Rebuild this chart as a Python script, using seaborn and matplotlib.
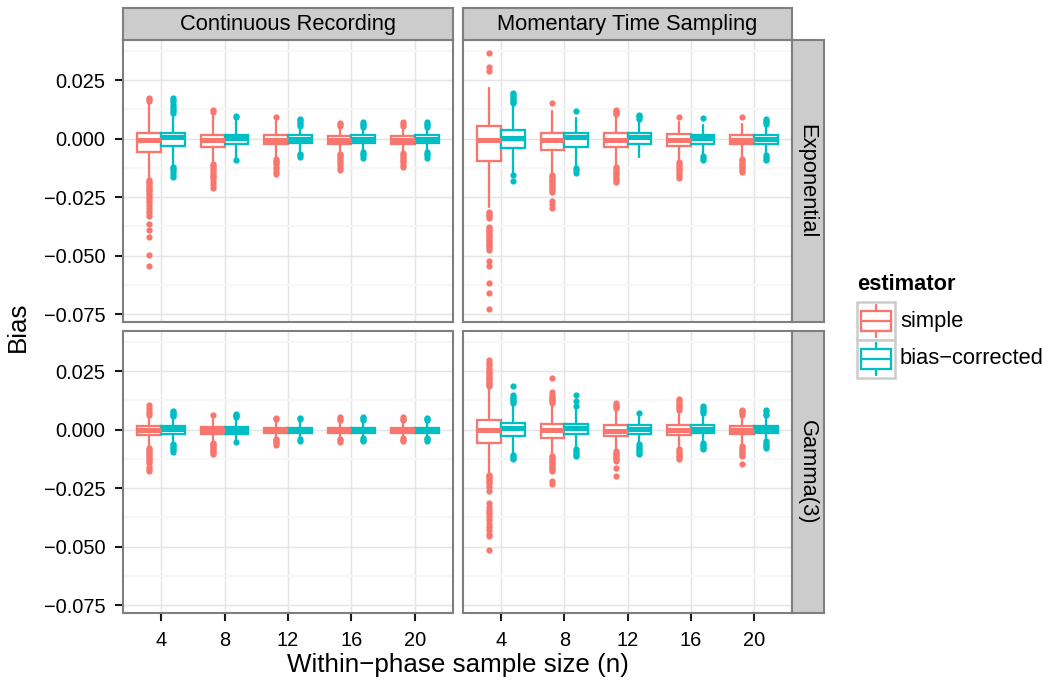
import matplotlib
matplotlib.use("Agg")
import matplotlib.pyplot as plt
import seaborn as sns
from matplotlib.patches import Rectangle
from matplotlib.lines import Line2D

# ---------------- data ----------------
N_VALUES = [4, 8, 12, 16, 20]
METHODS = ["Continuous Recording", "Momentary Time Sampling"]
DISTRIBUTIONS = ["Exponential", "Gamma(3)"]
ESTIMATORS = ["simple", "bias\u2212corrected"]
Y_TICKS = [0.025, 0.0, -0.025, -0.05, -0.075]
Y_TICK_LABELS = ["0.025", "0.000", "\u22120.025", "\u22120.050", "\u22120.075"]
X_LABEL = "Within\u2212phase sample size (n)"
Y_LABEL = "Bias"
LEGEND_TITLE = "estimator"

# box statistics per n: (lower whisker, Q1, median, Q3, upper whisker)
CR_EXP_SIMPLE = [(-0.0171, -0.0059, -0.0006, 0.0025, 0.0151),
                 (-0.0103, -0.0037, -0.0008, 0.0013, 0.0097),
                 (-0.0079, -0.0025, -0.0006, 0.0013, 0.0075),
                 (-0.0058, -0.0023, -0.0005, 0.0011, 0.0048),
                 (-0.0055, -0.0022, -0.0005, 0.0011, 0.0048)]
CR_EXP_BC = [(-0.0114, -0.0034, 0.0006, 0.0023, 0.0104),
             (-0.0090, -0.0025, 0.0002, 0.0017, 0.0085),
             (-0.0058, -0.0020, 0.0000, 0.0014, 0.0048),
             (-0.0048, -0.0017, 0.0000, 0.0013, 0.0042),
             (-0.0048, -0.0017, 0.0000, 0.0013, 0.0042)]
MTS_EXP_SIMPLE = [(-0.0291, -0.0097, -0.0006, 0.0052, 0.0215),
                  (-0.0150, -0.0051, -0.0008, 0.0024, 0.0119),
                  (-0.0114, -0.0037, -0.0006, 0.0023, 0.0097),
                  (-0.0093, -0.0030, -0.0006, 0.0020, 0.0069),
                  (-0.0079, -0.0025, -0.0006, 0.0017, 0.0061)]
MTS_EXP_BC = [(-0.0150, -0.0042, 0.0001, 0.0037, 0.0144),
              (-0.0119, -0.0037, 0.0008, 0.0023, 0.0088),
              (-0.0079, -0.0025, 0.0008, 0.0023, 0.0076),
              (-0.0068, -0.0023, 0.0003, 0.0017, 0.0059),
              (-0.0065, -0.0023, -0.0003, 0.0016, 0.0055)]
CR_GAM_SIMPLE = [(-0.0071, -0.0025, -0.0004, 0.0017, 0.0056),
                 (-0.0050, -0.0018, -0.0002, 0.0011, 0.0046),
                 (-0.0035, -0.0016, -0.0003, 0.0008, 0.0041),
                 (-0.0035, -0.0015, -0.0002, 0.0008, 0.0038),
                 (-0.0033, -0.0014, -0.0002, 0.0008, 0.0036)]
CR_GAM_BC = [(-0.0056, -0.0018, 0.0002, 0.0017, 0.0050),
             (-0.0050, -0.0017, 0.0000, 0.0011, 0.0046),
             (-0.0035, -0.0015, -0.0001, 0.0008, 0.0038),
             (-0.0033, -0.0014, -0.0001, 0.0008, 0.0036),
             (-0.0032, -0.0013, -0.0001, 0.0008, 0.0035)]
MTS_GAM_SIMPLE = [(-0.0191, -0.0056, -0.0004, 0.0042, 0.0177),
                  (-0.0106, -0.0035, -0.0004, 0.0024, 0.0106),
                  (-0.0085, -0.0028, -0.0006, 0.0021, 0.0085),
                  (-0.0076, -0.0025, -0.0004, 0.0018, 0.0078),
                  (-0.0064, -0.0020, -0.0002, 0.0015, 0.0057)]
MTS_GAM_BC = [(-0.0106, -0.0028, 0.0007, 0.0028, 0.0106),
              (-0.0078, -0.0021, 0.0007, 0.0024, 0.0092),
              (-0.0056, -0.0018, 0.0002, 0.0018, 0.0064),
              (-0.0050, -0.0015, 0.0003, 0.0018, 0.0064),
              (-0.0045, -0.0014, 0.0002, 0.0015, 0.0053)]

# outliers per n
CR_EXP_SIMPLE_OUT = [
    [0.0160, 0.0167, 0.0175, -0.0178, -0.0185, -0.0192, -0.0200, -0.0207, -0.0215, -0.0222, -0.0230,
     -0.0238, -0.0246, -0.0255, -0.0263, -0.0272, -0.0283, -0.0295, -0.0308, -0.0320, -0.0333,
     -0.0364, -0.0390, -0.0422, -0.0496, -0.0545],
    [0.0112, 0.0122, -0.0110, -0.0118, -0.0126, -0.0134, -0.0142, -0.0150, -0.0158, -0.0166, -0.0175,
     -0.0185, -0.0198, -0.0211],
    [0.0090, -0.0086, -0.0094, -0.0102, -0.0110, -0.0120, -0.0130, -0.0142, -0.0153],
    [0.0054, 0.0060, 0.0066, -0.0064, -0.0072, -0.0080, -0.0088, -0.0096, -0.0105, -0.0115, -0.0126, -0.0136],
    [0.0054, 0.0062, 0.0072, -0.0062, -0.0070, -0.0078, -0.0086, -0.0094, -0.0102, -0.0112, -0.0122]]
CR_EXP_BC_OUT = [
    [0.0110, 0.0118, 0.0126, 0.0135, 0.0145, 0.0155, 0.0165, 0.0175, -0.0120, -0.0128, -0.0136, -0.0145,
     -0.0155, -0.0165],
    [0.0090, 0.0095, -0.0092],
    [0.0055, 0.0062, 0.0070, 0.0078, 0.0085, -0.0064, -0.0072, -0.0080],
    [0.0050, 0.0057, 0.0063, 0.0069, -0.0056, -0.0064, -0.0072, -0.0082],
    [0.0050, 0.0057, 0.0064, 0.0072, -0.0056, -0.0064, -0.0072, -0.0082]]
MTS_EXP_SIMPLE_OUT = [
    [0.0290, 0.0305, 0.0366, -0.0312, -0.0318, -0.0325, -0.0333, -0.0340, -0.0376, -0.0383, -0.0390,
     -0.0397, -0.0404, -0.0411, -0.0418, -0.0425, -0.0432, -0.0439, -0.0446, -0.0453, -0.0461, -0.0468,
     -0.0475, -0.0524, -0.0545, -0.0619, -0.0661, -0.0729],
    [0.0150, -0.0155, -0.0162, -0.0169, -0.0176, -0.0183, -0.0190, -0.0198, -0.0206, -0.0214, -0.0222,
     -0.0230, -0.0265, -0.0280, -0.0295],
    [0.0103, 0.0110, 0.0116, 0.0122, -0.0120, -0.0127, -0.0134, -0.0141, -0.0148, -0.0155, -0.0163,
     -0.0171, -0.0178, -0.0185],
    [0.0090, -0.0100, -0.0108, -0.0116, -0.0124, -0.0132, -0.0140, -0.0150, -0.0160, -0.0170],
    [0.0090, -0.0086, -0.0093, -0.0100, -0.0107, -0.0114, -0.0121, -0.0128, -0.0136, -0.0143]]
MTS_EXP_BC_OUT = [
    [0.0150, 0.0156, 0.0162, 0.0168, 0.0175, 0.0182, 0.0189, 0.0196, -0.0155, -0.0183],
    [0.0119, -0.0125, -0.0135, -0.0146],
    [0.0083, 0.0090, 0.0097, 0.0102],
    [0.0087, -0.0076, -0.0084, -0.0093],
    [0.0062, 0.0069, 0.0076, 0.0083, -0.0072, -0.0080, -0.0087, -0.0093]]
CR_GAM_SIMPLE_OUT = [
    [0.0064, 0.0071, 0.0078, 0.0090, 0.0103, -0.0078, -0.0085, -0.0092, -0.0099, -0.0106, -0.0113,
     -0.0120, -0.0127, -0.0134, -0.0142, -0.0160, -0.0170, -0.0177],
    [0.0064, -0.0056, -0.0062, -0.0068, -0.0074, -0.0080, -0.0086, -0.0093, -0.0100, -0.0106],
    [0.0044, 0.0048, -0.0040, -0.0046, -0.0052, -0.0058, -0.0064],
    [0.0042, 0.0047, 0.0052, -0.0040, -0.0046, -0.0052],
    [0.0041, 0.0046, 0.0052, -0.0038, -0.0044, -0.0050]]
CR_GAM_BC_OUT = [
    [0.0056, 0.0062, 0.0068, 0.0073, 0.0078, -0.0062, -0.0068, -0.0074, -0.0080, -0.0087, -0.0094],
    [0.0052, 0.0058, 0.0063, 0.0066, -0.0052],
    [0.0044, 0.0050, -0.0042, -0.0050],
    [0.0042, 0.0048, 0.0055, -0.0038, -0.0044, -0.0048],
    [0.0040, 0.0045, 0.0050, -0.0036, -0.0042, -0.0047]]
MTS_GAM_SIMPLE_OUT = [
    [0.0184, 0.0191, 0.0198, 0.0205, 0.0212, 0.0219, 0.0226, 0.0233, 0.0240, 0.0247, 0.0254, 0.0265,
     0.0275, 0.0286, 0.0297, -0.0194, -0.0200, -0.0205, -0.0212, -0.0219, -0.0226, -0.0233, -0.0247,
     -0.0261, -0.0315, -0.0329, -0.0343, -0.0352, -0.0360, -0.0374, -0.0388, -0.0402, -0.0417,
     -0.0431, -0.0445, -0.0456, -0.0513],
    [0.0113, 0.0120, 0.0127, 0.0134, 0.0141, 0.0148, 0.0160, 0.0219, -0.0112, -0.0119, -0.0126,
     -0.0133, -0.0140, -0.0148, -0.0155, -0.0163, -0.0170, -0.0177, -0.0219, -0.0232],
    [0.0092, 0.0099, 0.0106, 0.0113, -0.0092, -0.0099, -0.0106, -0.0113, -0.0120, -0.0127, -0.0134,
     -0.0163, -0.0198],
    [0.0085, 0.0092, 0.0099, 0.0106, 0.0113, 0.0120, 0.0131, -0.0083, -0.0090, -0.0097, -0.0104,
     -0.0111, -0.0118, -0.0127],
    [0.0064, 0.0071, 0.0078, 0.0085, -0.0071, -0.0078, -0.0085, -0.0092, -0.0099, -0.0106, -0.0113,
     -0.0148]]
MTS_GAM_BC_OUT = [
    [0.0113, 0.0120, 0.0127, 0.0134, 0.0141, 0.0148, 0.0186, -0.0110, -0.0115, -0.0120, -0.0124],
    [0.0100, 0.0120, 0.0148, -0.0085, -0.0092, -0.0100, -0.0107, -0.0113],
    [0.0071, -0.0063, -0.0070, -0.0078, -0.0085, -0.0092, -0.0099, -0.0106],
    [0.0071, 0.0078, 0.0085, 0.0092, 0.0099, -0.0057, -0.0064, -0.0071, -0.0078, -0.0085],
    [0.0060, 0.0067, 0.0078, 0.0085, -0.0050, -0.0057, -0.0064, -0.0071, -0.0078]]

# ---------------- style ----------------
sns.set_theme(style="white")
plt.rcParams["font.family"] = ["Liberation Sans", "DejaVu Sans"]
plt.rcParams["text.color"] = "black"
PALETTE = sns.color_palette(["#F8766D", "#00BFC4"])

W, H = 1050, 685
fig = plt.figure(figsize=(W / 150, H / 150), dpi=150)
fig.patch.set_facecolor("white")


def px_rect(x0, y0, x1, y1):
    return [x0 / W, 1 - y1 / H, (x1 - x0) / W, (y1 - y0) / H]


COL_X = [(123, 453), (463, 792)]
ROW_Y = [(40, 322), (331, 613)]
STRIP_TOP = (8, 40)
STRIP_RIGHT = (792, 824)
YLIM = (-0.0784, 0.0421)
BORDER = "#7F7F7F"

PANELS = {
    (0, 0): ((CR_EXP_SIMPLE, CR_EXP_BC), (CR_EXP_SIMPLE_OUT, CR_EXP_BC_OUT)),
    (0, 1): ((MTS_EXP_SIMPLE, MTS_EXP_BC), (MTS_EXP_SIMPLE_OUT, MTS_EXP_BC_OUT)),
    (1, 0): ((CR_GAM_SIMPLE, CR_GAM_BC), (CR_GAM_SIMPLE_OUT, CR_GAM_BC_OUT)),
    (1, 1): ((MTS_GAM_SIMPLE, MTS_GAM_BC), (MTS_GAM_SIMPLE_OUT, MTS_GAM_BC_OUT)),
}

minor_y = [(a + b) / 2 for a, b in zip(Y_TICKS[:-1], Y_TICKS[1:])] + [0.0375]

for (r, c), (stats_pair, out_pair) in PANELS.items():
    x0, x1 = COL_X[c]
    y0, y1 = ROW_Y[r]
    ax = fig.add_axes(px_rect(x0, y0, x1, y1))
    ax.set_facecolor("white")
    for e, (stats, outs) in enumerate(zip(stats_pair, out_pair)):
        color = PALETTE[e]
        offset = -0.1875 if e == 0 else 0.1875
        bstats = [dict(whislo=lo, q1=q1, med=md, q3=q3, whishi=hi, fliers=fl)
                  for (lo, q1, md, q3, hi), fl in zip(stats, outs)]
        ax.bxp(bstats, positions=[i + offset for i in range(len(N_VALUES))],
               widths=0.375, patch_artist=True, showcaps=False, manage_ticks=False,
               boxprops=dict(facecolor="white", edgecolor=color, linewidth=1.1),
               medianprops=dict(color=color, linewidth=2.4, solid_capstyle="butt"),
               whiskerprops=dict(color=color, linewidth=1.1),
               flierprops=dict(marker="o", markerfacecolor=color, markeredgecolor="none",
                               markersize=3.0, linestyle="none"),
               zorder=3)
    ax.set_xlim(-0.6, len(N_VALUES) - 0.4)
    ax.set_ylim(*YLIM)
    ax.set_xticks(range(len(N_VALUES)))
    ax.set_yticks(Y_TICKS)
    ax.set_yticks(minor_y, minor=True)
    ax.grid(which="major", color="#E5E5E5", linewidth=0.7)
    ax.grid(which="minor", axis="y", color="#F7F7F7", linewidth=1.0)
    ax.set_axisbelow(True)
    for sp in ax.spines.values():
        sp.set_color(BORDER)
        sp.set_linewidth(1.0)
    ax.tick_params(which="minor", length=0, left=False, bottom=False)
    ax.tick_params(which="major", length=4, width=1.0, color="#1A1A1A", labelsize=9.6,
                   labelcolor="black", pad=4.5, direction="out")
    if c == 0:
        ax.set_yticklabels(Y_TICK_LABELS)
        ax.tick_params(axis="y", which="major", left=True, labelleft=True)
    else:
        ax.set_yticklabels([])
        ax.tick_params(axis="y", left=False)
    if r == 1:
        ax.set_xticklabels([str(n) for n in N_VALUES])
        ax.tick_params(axis="x", which="major", bottom=True, labelbottom=True)
    else:
        ax.set_xticklabels([])
        ax.tick_params(axis="x", bottom=False)

# strips
for c, (x0, x1) in enumerate(COL_X):
    sax = fig.add_axes(px_rect(x0, STRIP_TOP[0], x1, STRIP_TOP[1]))
    sax.set_facecolor("#CCCCCC")
    sax.set_xticks([]); sax.set_yticks([])
    for sp in sax.spines.values():
        sp.set_color(BORDER); sp.set_linewidth(1.0)
    sax.text(0.5, 0.47, METHODS[c], transform=sax.transAxes, ha="center", va="center",
             fontsize=10.5, color="black")
for r, (y0, y1) in enumerate(ROW_Y):
    sax = fig.add_axes(px_rect(STRIP_RIGHT[0], y0, STRIP_RIGHT[1], y1))
    sax.set_facecolor("#CCCCCC")
    sax.set_xticks([]); sax.set_yticks([])
    for sp in sax.spines.values():
        sp.set_color(BORDER); sp.set_linewidth(1.0)
    sax.text(0.47, 0.5, DISTRIBUTIONS[r], transform=sax.transAxes, ha="center", va="center",
             rotation=-90, fontsize=10.5, color="black")

# axis titles
fig.text((COL_X[0][0] + COL_X[1][1]) / 2 / W, 1 - 672 / H, X_LABEL, ha="center",
         va="baseline", fontsize=12.5, color="black")
fig.text(18 / W, 1 - 327 / H, Y_LABEL, ha="center", va="center", rotation=90,
         fontsize=12.5, color="black")

# legend (drawn in pixel coordinates)
lax = fig.add_axes(px_rect(845, 265, 1050, 390))
lax.set_xlim(845, 1050)
lax.set_ylim(390, 265)
lax.axis("off")
lax.text(857, 285, LEGEND_TITLE, fontsize=10.5, fontweight="bold", ha="left", va="center",
         color="black")
for e, label in enumerate(ESTIMATORS):
    top = 302 + 38 * e
    color = PALETTE[e]
    lax.add_patch(Rectangle((857, top), 38, 38, facecolor="white", edgecolor="#CCCCCC",
                            linewidth=1.2, zorder=1))
    cx = 876
    lax.add_line(Line2D([cx, cx], [top + 3, top + 9], color=color, lw=1.1, zorder=2))
    lax.add_line(Line2D([cx, cx], [top + 29, top + 35], color=color, lw=1.1, zorder=2))
    lax.add_patch(Rectangle((861, top + 9), 30, 20, facecolor="white", edgecolor=color,
                            linewidth=1.1, zorder=2))
    lax.add_line(Line2D([861, 891], [top + 19, top + 19], color=color, lw=1.1, zorder=3))
    lax.text(900, top + 19, label, fontsize=10.5, ha="left", va="center", color="black")

fig.savefig("out.png", dpi=150, facecolor="white")
